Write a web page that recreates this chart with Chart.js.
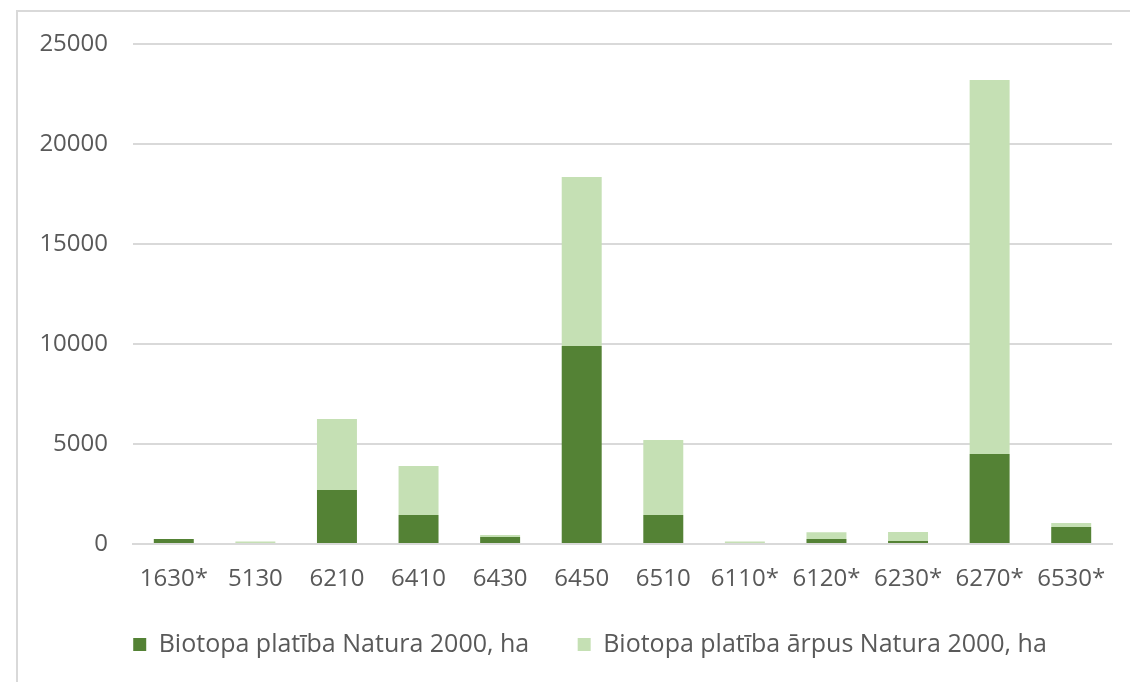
<!DOCTYPE html>
<html>
<head>
<meta charset="utf-8">
<script src="https://cdn.jsdelivr.net/npm/chart.js@4"></script>
<style>
  html, body { margin: 0; padding: 0; background: #fff; }
  #frame { position: absolute; left: 16px; top: 10px; width: 1200px; height: 800px;
           border-left: 2px solid #d9d9d9; border-top: 2px solid #d9d9d9; }
  #wrap { position: absolute; left: 0; top: 0; width: 1130px; height: 682px; }
</style>
</head>
<body>
<div id="frame"></div>
<div id="wrap"><canvas id="chart" width="1130" height="682"></canvas></div>
<script>
// habitat codes
var categories = ['1630*', '5130', '6210', '6410', '6430', '6450', '6510', '6110*', '6120*', '6230*', '6270*', '6530*'];
// area inside Natura 2000, ha
var insideNatura = [250, 0, 2700, 1450, 350, 9900, 1450, 0, 250, 150, 4500, 850];
// area outside Natura 2000, ha
var outsideNatura = [0, 120, 3550, 2450, 100, 8450, 3750, 120, 340, 450, 18700, 200];
var yTicks = [0, 5000, 10000, 15000, 20000, 25000];

var font = { family: '"Open Sans", sans-serif', size: 24 };
var legendFont = { family: '"Open Sans", sans-serif', size: 25 };

// nudge the legend to the right, like the Excel original
var legendShift = {
  id: 'legendShift',
  afterLayout: function(chart) {
    chart.legend.left += 48;
  }
};

new Chart(document.getElementById('chart'), {
  type: 'bar',
  data: {
    labels: categories,
    datasets: [{
        label: 'Biotopa platība Natura 2000, ha',
        data: insideNatura,
        backgroundColor: '#548235'
      }, {
        label: 'Biotopa platība ārpus Natura 2000, ha',
        data: outsideNatura,
        backgroundColor: '#c5e0b4'
      }
    ]
  },
  plugins: [legendShift],
  options: {
    responsive: false,
    animation: false,
    layout: { padding: { left: 20, right: 18, top: 44, bottom: 15 } },
    datasets: { bar: { categoryPercentage: 1, barPercentage: 0.49 } },
    scales: {
      x: {
        stacked: true,
        afterFit: function(axis) { axis.height = 52; },
        grid: { display: false, drawTicks: false },
        border: { color: '#d9d9d9', width: 2 },
        ticks: { color: '#595959', font: font, padding: 21, maxRotation: 0 }
      },
      y: {
        stacked: true,
        min: 0, max: 25000,
        afterFit: function(axis) { axis.width = 113; },
        afterBuildTicks: function(axis) { axis.ticks = yTicks.map(function(v) { return { value: v }; }); },
        grid: { color: '#d9d9d9', lineWidth: 2, drawTicks: false },
        border: { display: false },
        ticks: { color: '#595959', font: font, padding: 25, callback: function(v) { return String(v); } }
      }
    },
    plugins: {
      tooltip: { enabled: false },
      legend: {
        position: 'bottom',
        labels: {
          color: '#595959', font: legendFont, boxWidth: 13, boxHeight: 13, padding: 36,
          generateLabels: function(chart) {
            var items = Chart.defaults.plugins.legend.labels.generateLabels(chart);
            items[0].text += '\u2002';
            return items;
          }
        }
      }
    }
  }
});
</script>
</body>
</html>
